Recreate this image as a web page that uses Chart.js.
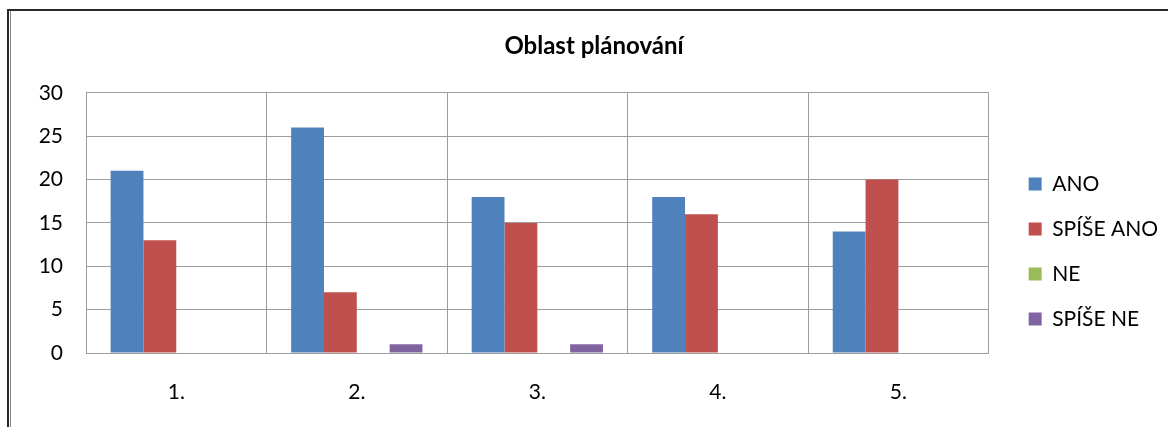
<!DOCTYPE html>
<html>
<head>
<meta charset="utf-8">
<script src="https://cdn.jsdelivr.net/npm/chart.js@4"></script>
<style>
  html, body { margin: 0; padding: 0; background: #fff; }
  #wrap { position: relative; width: 1168px; height: 427px; overflow: hidden; }
  #frame {
    position: absolute; left: 7px; top: 9px; right: -10px; bottom: -10px;
    border-left: 2px solid #2a2a2a; border-top: 2px solid #2a2a2a;
    pointer-events: none;
  }
  #frame::before {
    content: ""; position: absolute; left: 1px; top: 0; bottom: 0;
    border-left: 1px solid #8a8a8a;
  }
  canvas { position: absolute; left: 0; top: 0; }
</style>
</head>
<body>
<div id="wrap">
  <canvas id="chart" width="1168" height="427"></canvas>
  <div id="frame"></div>
</div>
<script>
const categories = ['1.', '2.', '3.', '4.', '5.'];
const seriesNames = ['ANO', 'SPÍŠE ANO', 'NE', 'SPÍŠE NE'];
const ano = [21, 26, 18, 18, 14];
const spiseAno = [13, 7, 15, 16, 20];
const ne = [0, 0, 0, 0, 0];
const spiseNe = [0, 1, 1, 0, 0];
const yTicks = [0, 5, 10, 15, 20, 25, 30];

const colors = ['#4F81BD', '#C0504D', '#9BBB59', '#8064A2'];
const values = [ano, spiseAno, ne, spiseNe];

const FONT = 'Lato, "Liberation Sans", sans-serif';
const gridColor = '#9c9c9c';

// Nudge the legend block away from the plot area and centre the title a bit to the right.
const boxOffsets = {
  id: 'boxOffsets',
  afterLayout(chart) {
    const lg = chart.legend;
    if (lg) {
      lg.left += 16; lg.right += 16;
      lg.top += 22; lg.bottom += 22;
    }
    const tt = chart.titleBlock;
    if (tt) {
      tt.left += 14; tt.right += 14;
    }
  }
};

new Chart(document.getElementById('chart'), {
  type: 'bar',
  data: {
    labels: categories,
    datasets: seriesNames.map((name, i) => ({
      label: name,
      data: values[i],
      backgroundColor: colors[i],
      borderWidth: 0,
      categoryPercentage: 4 / 5.5,
      barPercentage: 1.0
    }))
  },
  options: {
    responsive: false,
    animation: false,
    devicePixelRatio: 1,
    layout: { padding: { left: 8, right: 16, top: 32, bottom: 0 } },
    plugins: {
      title: {
        display: true,
        text: 'Oblast plánování',
        color: '#000',
        font: { family: FONT, size: 24, weight: 'bold' },
        padding: { top: 0, bottom: 32 }
      },
      legend: {
        position: 'right',
        align: 'center',
        labels: {
          color: '#000',
          font: { family: FONT, size: 21 },
          boxWidth: 13,
          boxHeight: 13,
          padding: 24
        }
      },
      tooltip: { enabled: false }
    },
    scales: {
      x: {
        grid: { color: gridColor, drawTicks: false, offset: true },
        border: { color: gridColor },
        ticks: { color: '#000', font: { family: FONT, size: 21 }, padding: 27 },
        afterFit(scale) { scale.height = 74; }
      },
      y: {
        min: 0,
        max: 30,
        afterBuildTicks(scale) { scale.ticks = yTicks.map(v => ({ value: v })); },
        grid: { color: gridColor, drawTicks: false },
        border: { color: gridColor },
        ticks: { color: '#000', font: { family: FONT, size: 21 }, padding: 23 },
        afterFit(scale) { scale.width = 78; }
      }
    }
  },
  plugins: [boxOffsets]
});
</script>
</body>
</html>
